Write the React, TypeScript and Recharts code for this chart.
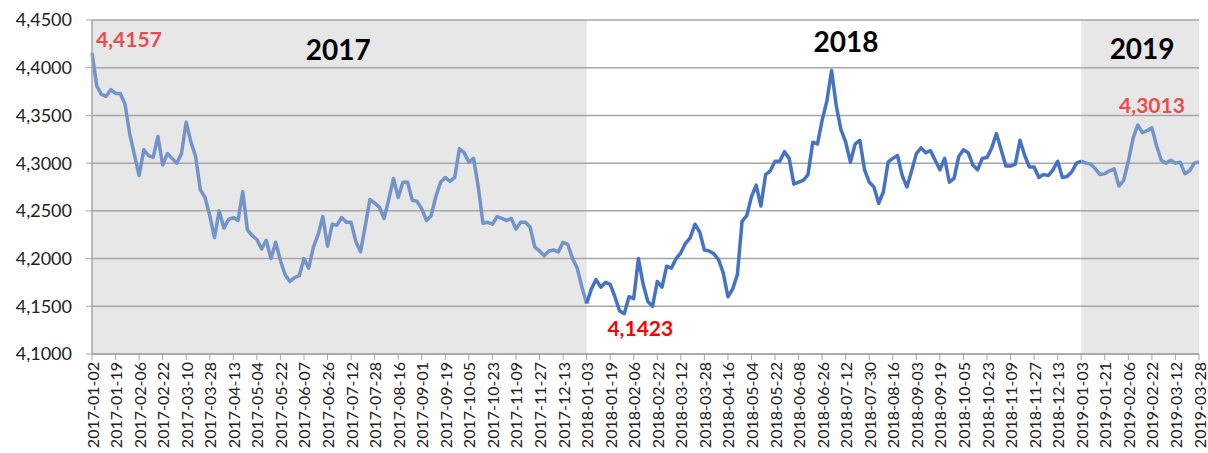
import { LineChart, Line, XAxis, YAxis, ReferenceArea, ReferenceLine, ReferenceDot } from "recharts";

const TICK_LABELS = [
  "2017-01-02", "2017-01-19", "2017-02-06", "2017-02-22", "2017-03-10", "2017-03-28", "2017-04-13", "2017-05-04",
  "2017-05-22", "2017-06-07", "2017-06-26", "2017-07-12", "2017-07-28", "2017-08-16", "2017-09-01", "2017-09-19",
  "2017-10-05", "2017-10-23", "2017-11-09", "2017-11-27", "2017-12-13",
  "2018-01-03", "2018-01-19", "2018-02-06", "2018-02-22", "2018-03-12", "2018-03-28", "2018-04-16", "2018-05-04",
  "2018-05-22", "2018-06-08", "2018-06-26", "2018-07-12", "2018-07-30", "2018-08-16", "2018-09-03", "2018-09-19",
  "2018-10-05", "2018-10-23", "2018-11-09", "2018-11-27", "2018-12-13",
  "2019-01-03", "2019-01-21", "2019-02-06", "2019-02-22", "2019-03-12", "2019-03-28",
];

// kurs, 5 punktów na jedną etykietę osi X
const VALUES = [
  4.4157, 4.381, 4.372, 4.370, 4.377, 4.373, 4.373, 4.362, 4.331, 4.309,
  4.287, 4.314, 4.308, 4.306, 4.328, 4.298, 4.310, 4.305, 4.300, 4.310,
  4.343, 4.322, 4.307, 4.272, 4.264, 4.245, 4.222, 4.250, 4.232, 4.241,
  4.243, 4.240, 4.270, 4.230, 4.224, 4.220, 4.210, 4.219, 4.200, 4.217,
  4.198, 4.183, 4.176, 4.180, 4.182, 4.200, 4.190, 4.212, 4.225, 4.244,
  4.213, 4.236, 4.235, 4.243, 4.238, 4.238, 4.218, 4.207, 4.234, 4.262,
  4.258, 4.254, 4.242, 4.262, 4.284, 4.264, 4.280, 4.280, 4.261, 4.260,
  4.252, 4.240, 4.245, 4.265, 4.280, 4.285, 4.281, 4.285, 4.315, 4.311,
  4.301, 4.305, 4.275, 4.237, 4.238, 4.236, 4.244, 4.242, 4.240, 4.242,
  4.231, 4.238, 4.238, 4.233, 4.212, 4.208, 4.203, 4.208, 4.209, 4.207,
  4.217, 4.215, 4.200, 4.190, 4.170, 4.153, 4.168, 4.178, 4.170, 4.175,
  4.173, 4.160, 4.145, 4.1423, 4.160, 4.158, 4.200, 4.173, 4.155, 4.150,
  4.176, 4.170, 4.192, 4.190, 4.200, 4.206, 4.216, 4.222, 4.236, 4.228,
  4.209, 4.208, 4.205, 4.199, 4.185, 4.160, 4.168, 4.183, 4.239, 4.245,
  4.265, 4.277, 4.255, 4.288, 4.292, 4.302, 4.302, 4.312, 4.305, 4.278,
  4.280, 4.282, 4.288, 4.322, 4.320, 4.345, 4.365, 4.397, 4.360, 4.335,
  4.322, 4.301, 4.320, 4.324, 4.293, 4.280, 4.275, 4.258, 4.270, 4.301,
  4.305, 4.308, 4.287, 4.275, 4.292, 4.310, 4.316, 4.311, 4.313, 4.303,
  4.293, 4.305, 4.280, 4.284, 4.307, 4.314, 4.311, 4.298, 4.293, 4.305,
  4.306, 4.316, 4.331, 4.314, 4.297, 4.297, 4.299, 4.324, 4.308, 4.296,
  4.296, 4.285, 4.288, 4.287, 4.293, 4.302, 4.285, 4.286, 4.291, 4.300,
  4.302, 4.300, 4.299, 4.294, 4.288, 4.289, 4.292, 4.294, 4.276, 4.282,
  4.302, 4.326, 4.340, 4.332, 4.334, 4.337, 4.318, 4.303, 4.300, 4.303,
  4.300, 4.301, 4.289, 4.292, 4.300, 4.3013,
];

const Y_TICKS = [4.1, 4.15, 4.2, 4.25, 4.3, 4.35, 4.4, 4.45];
const STEP = 5;
const START_2018 = 105;
const START_2019 = 210;
const LAST = VALUES.length - 1;

const LIGHT = "#7394cb";
const DARK = "#4472c4";
const GRID = "#a6a6a6";
const FONT = "Lato, 'Open Sans', sans-serif";

const data = VALUES.map((v, i) => ({
  i,
  a: i <= START_2018 ? v : null,
  b: i >= START_2018 && i <= START_2019 ? v : null,
  c: i >= START_2019 ? v : null,
}));

const xTicks = TICK_LABELS.map((_, j) => j * STEP);
const fmt = (v: number) => v.toFixed(4).replace(".", ",");

const DateTick = ({ x, y, payload }: any) => (
  <text
    transform={`translate(${x},${y}) rotate(-90)`}
    textAnchor="end"
    dominantBaseline="central"
    fontSize={16}
    fontFamily={FONT}
    fill="#222"
  >
    {TICK_LABELS[Math.round(payload.value / STEP)]}
  </text>
);

const yearLabel = (text: string, dx: number, dy: number) => (props: any) => {
  const vb = props.viewBox;
  return (
    <text
      x={vb.x + vb.width / 2 + dx}
      y={vb.y + dy}
      textAnchor="middle"
      fontSize={28}
      fontWeight="bold"
      fontFamily={FONT}
      fill="#000"
    >
      {text}
    </text>
  );
};

const valueLabel = (text: string, color: string, dx: number, dy: number, anchor: string) => (props: any) => {
  const vb = props.viewBox;
  return (
    <text
      x={vb.x + dx}
      y={vb.y + dy}
      textAnchor={anchor}
      fontSize={21}
      fontWeight="bold"
      fontFamily={FONT}
      fill={color}
    >
      {text}
    </text>
  );
};

export default function App() {
  return (
    <div style={{ position: "absolute", left: 0, top: 0, fontFamily: FONT }}>
      <LineChart width={1208} height={453} data={data} margin={{ top: 20, right: 9, left: 0, bottom: 0 }}>
        <XAxis
          dataKey="i"
          type="number"
          domain={[0, LAST]}
          ticks={xTicks}
          interval={0}
          tick={<DateTick />}
          tickSize={6}
          tickMargin={2}
          height={99}
          axisLine={{ stroke: GRID, strokeWidth: 1.5 }}
          tickLine={{ stroke: GRID }}
        />
        <YAxis
          domain={[4.1, 4.45]}
          ticks={Y_TICKS}
          interval={0}
          width={92}
          tickFormatter={fmt}
          tickSize={6}
          tickMargin={14}
          tick={{ fontSize: 18, fill: "#222", fontFamily: FONT }}
          axisLine={{ stroke: GRID, strokeWidth: 1.5 }}
          tickLine={{ stroke: GRID }}
        />
        <ReferenceArea x1={0} x2={START_2018} fill="#e7e7e7" fillOpacity={1} stroke="none" label={yearLabel("2017", -1, 40)} />
        <ReferenceArea x1={START_2018} x2={START_2019} fill="#fff" fillOpacity={0} stroke="none" label={yearLabel("2018", 12, 32)} />
        <ReferenceArea x1={START_2019} x2={LAST} fill="#e7e7e7" fillOpacity={1} stroke="none" label={yearLabel("2019", 2, 39)} />
        {Y_TICKS.map((t) => (
          <ReferenceLine key={t} y={t} stroke={GRID} strokeWidth={1.5} />
        ))}
        <Line dataKey="a" stroke={LIGHT} strokeWidth={3.5} strokeLinejoin="round" dot={false} isAnimationActive={false} connectNulls={false} />
        <Line dataKey="b" stroke={DARK} strokeWidth={3.5} strokeLinejoin="round" dot={false} isAnimationActive={false} connectNulls={false} />
        <Line dataKey="c" stroke={LIGHT} strokeWidth={3.5} strokeLinejoin="round" dot={false} isAnimationActive={false} connectNulls={false} />
        <ReferenceDot x={0} y={VALUES[0]} r={0} fill="none" stroke="none" label={valueLabel(fmt(VALUES[0]), "#e84c4c", 4, -6, "start")} />
        <ReferenceDot x={113} y={VALUES[113]} r={0} fill="none" stroke="none" label={valueLabel(fmt(VALUES[113]), "#ff0000", 16, 22, "middle")} />
        <ReferenceDot x={LAST} y={VALUES[LAST]} r={0} fill="none" stroke="none" label={valueLabel(fmt(VALUES[LAST]), "#e84c4c", -47, -49, "middle")} />
      </LineChart>
    </div>
  );
}
